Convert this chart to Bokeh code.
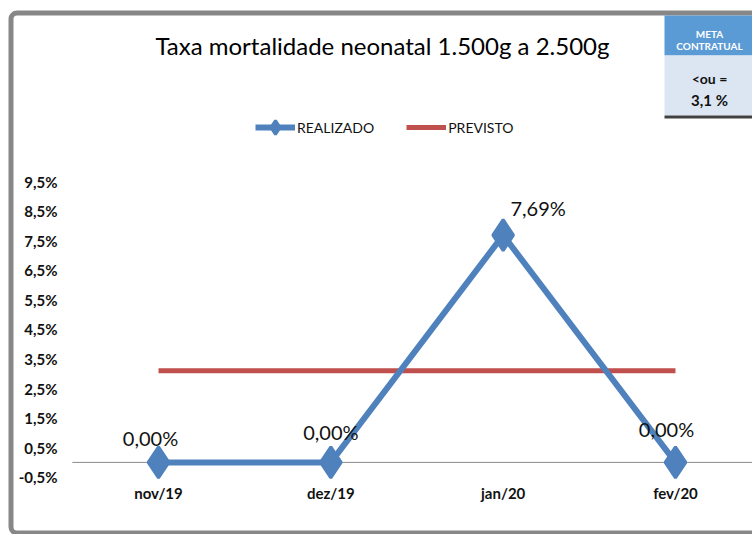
from bokeh.plotting import figure
from bokeh.models import (Range1d, FixedTicker, BoxAnnotation, Label,
                          Legend, LegendItem, ColumnDataSource)
from bokeh.core.properties import value
from bokeh.embed import file_html
from bokeh.resources import INLINE

# ---- data ----
categories = ["nov/19", "dez/19", "jan/20", "fev/20"]
realizado = [0.0, 0.0, 7.69, 0.0]
realizado_labels = ["0,00%", "0,00%", "7,69%", "0,00%"]
previsto = [3.1, 3.1, 3.1, 3.1]
y_ticks = [-0.5, 0.5, 1.5, 2.5, 3.5, 4.5, 5.5, 6.5, 7.5, 8.5, 9.5]
y_tick_labels = ["-0,5%", "0,5%", "1,5%", "2,5%", "3,5%", "4,5%",
                 "5,5%", "6,5%", "7,5%", "8,5%", "9,5%"]
title_text = "Taxa mortalidade neonatal  1.500g a 2.500g"
meta_lines = ["META", "CONTRATUAL", "<ou =", "3,1 %"]

# label nudges (pixels)
label_dx = [-8, 0, 35, -9]
label_dy = [-24, -30, -27, -33]

FONT = "Lato"
W, H = 752, 534

xs = list(range(len(categories)))

p = figure(width=W, height=H, output_backend="svg", toolbar_location=None,
           x_range=Range1d(-0.917, 3.447), y_range=Range1d(-2.44, 15.63),
           min_border_left=0, min_border_right=0, min_border_top=0,
           min_border_bottom=0, title=None)
p.background_fill_color = "white"
p.border_fill_color = "white"
p.outline_line_color = None
p.xgrid.visible = False
p.ygrid.visible = False

# axes (labels drawn inside the frame area)
p.yaxis.ticker = FixedTicker(ticks=y_ticks)
p.yaxis.major_label_overrides = {t: l for t, l in zip(y_ticks, y_tick_labels)}
p.yaxis.axis_line_color = None
p.yaxis.major_tick_line_color = None
p.yaxis.minor_tick_line_color = None
p.yaxis.major_tick_out = 0
p.yaxis.major_tick_in = 0
p.yaxis.minor_tick_out = 0
p.yaxis.major_label_standoff = -57
p.yaxis.major_label_text_font = FONT
p.yaxis.major_label_text_font_style = "bold"
p.yaxis.major_label_text_font_size = "15px"
p.yaxis.major_label_text_color = "#111111"

p.xaxis.ticker = FixedTicker(ticks=xs)
p.xaxis.major_label_overrides = {i: c for i, c in zip(xs, categories)}
p.xaxis.axis_line_color = None
p.xaxis.major_tick_line_color = None
p.xaxis.minor_tick_line_color = None
p.xaxis.major_tick_out = 0
p.xaxis.major_tick_in = 0
p.xaxis.minor_tick_out = 0
p.xaxis.major_label_standoff = -51
p.xaxis.major_label_text_font = FONT
p.xaxis.major_label_text_font_style = "bold"
p.xaxis.major_label_text_font_size = "15px"
p.xaxis.major_label_text_color = "#111111"

src = ColumnDataSource(dict(x=xs, y=realizado, lab=realizado_labels,
                            dx=label_dx, dy=label_dy, prev=previsto))

# category-axis baseline at zero, spanning the category band
p.segment(x0=[xs[0] - 0.5], y0=[0], x1=[xs[-1] + 0.5], y1=[0],
          line_color="#8a8a8a", line_width=1)

prev_r = p.line("x", "prev", source=src, line_color="#C0504D", line_width=5)
real_r = p.line("x", "y", source=src, line_color="#4F81BD", line_width=6)
mark_r = p.scatter("x", "y", source=src, marker="diamond", size=31,
                   fill_color="#4F81BD", line_color="#4F81BD", line_width=3)
p.text("x", "y", text="lab", source=src, x_offset="dx", y_offset="dy",
       text_align="center", text_baseline="alphabetic", text_font=value(FONT),
       text_font_size="20px", text_color="#111111")

legend = Legend(items=[LegendItem(label="REALIZADO", renderers=[real_r, mark_r]),
                       LegendItem(label="PREVISTO", renderers=[prev_r])],
                orientation="horizontal", location=(255, 390),
                glyph_width=40, glyph_height=34, label_standoff=2, spacing=32,
                padding=0, margin=0, border_line_color=None,
                background_fill_alpha=0, label_text_font=FONT,
                label_text_font_size="14px", label_text_color="#111111")
p.add_layout(legend)

# title
p.add_layout(Label(x=385, y=45, x_units="canvas", y_units="canvas",
                   text=title_text, text_align="center", text_baseline="middle",
                   text_font=FONT, text_font_size="24px", text_color="#000000"))

# outer grey chart border (right side lies beyond the picture)
p.add_layout(BoxAnnotation(left=10.5, right=790, top=12.5, bottom=532.5,
                           left_units="canvas", right_units="canvas",
                           top_units="canvas", bottom_units="canvas",
                           fill_alpha=0, line_color="#878787", line_alpha=1,
                           line_width=5, border_radius=6))

# META box
for (l, r, t, b, c) in [(664, W, 15, 55, "#5B9BD5"), (664, W, 55, 115, "#DCE6F2"),
                        (664, W, 115, 118, "#404040")]:
    p.add_layout(BoxAnnotation(left=l, right=r, top=t, bottom=b,
                               left_units="canvas", right_units="canvas",
                               top_units="canvas", bottom_units="canvas",
                               fill_color=c, fill_alpha=1, line_color=None))

for txt, y, size, col in [(meta_lines[0], 33, "10px", "white"),
                          (meta_lines[1], 45, "10px", "white"),
                          (meta_lines[2], 78, "14px", "#111111"),
                          (meta_lines[3], 99, "15px", "#111111")]:
    p.add_layout(Label(x=709, y=y, x_units="canvas", y_units="canvas", text=txt,
                       text_align="center", text_baseline="middle",
                       text_font=FONT, text_font_style="bold",
                       text_font_size=size, text_color=col))

open("out.html", "w").write(file_html(p, INLINE))
